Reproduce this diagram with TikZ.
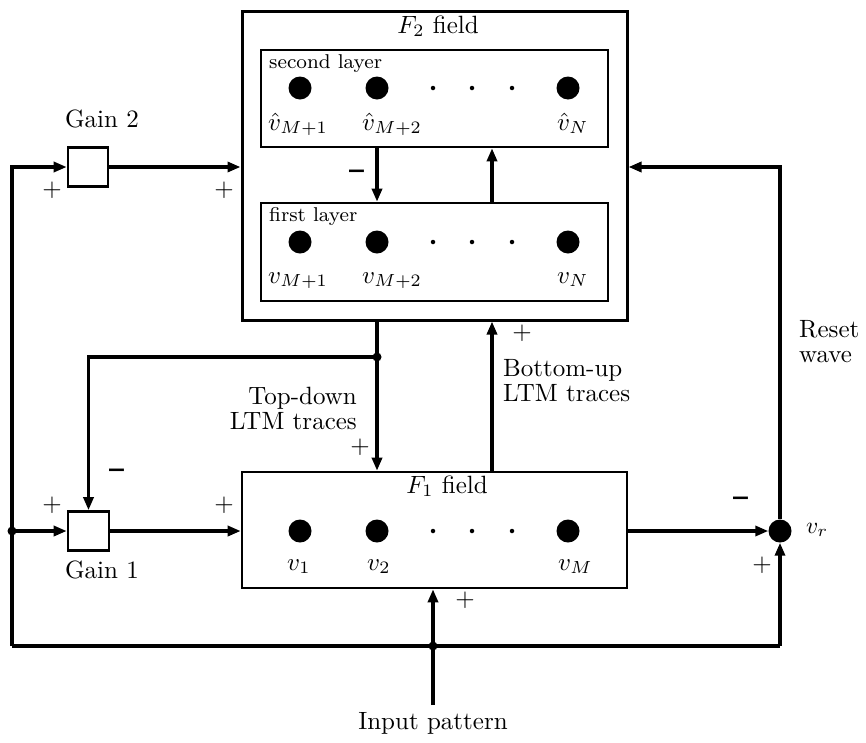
\documentclass[tikz,border=0pt]{standalone}
\usepackage{graphicx}
\usetikzlibrary{arrows.meta}
% text is set at its design size and magnified, as in a scaled-up drawing
\newcommand\magtext[1]{\scalebox{2.5}{#1}}
\newcommand\magstack[2]{\magtext{\renewcommand{\arraystretch}{0.83}\begin{tabular}{@{}#1@{}}#2\end{tabular}}}
\begin{document}
\begin{tikzpicture}[x=1pt,y=-1pt,
  font=\fontsize{10}{12}\selectfont,
  wire/.style={line width=3.2pt},
  conn/.style={line width=3.2pt,-{Triangle[length=13pt,width=10pt]}},
  frame/.style={draw,line width=2.6pt,inner sep=0pt},
  unit/.style={circle,fill,inner sep=0pt,minimum size=23pt},
  gap/.style={circle,fill,inner sep=0pt,minimum size=4.5pt},
  junc/.style={circle,fill,inner sep=0pt,minimum size=9pt},
  lbl/.style={inner sep=0pt}]
\useasboundingbox (0,0) rectangle (866,742);

% ---- boxes ----
\node[frame,line width=3pt,minimum width=385pt,minimum height=309pt] (F2) at (434.5,165.5) {};
\node[frame,minimum width=347pt,minimum height=97pt] (L2) at (434.5,98.5) {};
\node[frame,minimum width=347pt,minimum height=98pt] (L1) at (434.5,252) {};
\node[frame,minimum width=385pt,minimum height=116pt] (F1) at (434.5,530) {};
\node[frame,minimum width=40pt,minimum height=39pt] (G2) at (88,167) {};
\node[frame,minimum width=41pt,minimum height=39pt] (G1) at (88.5,531) {};
\node[unit] (vr) at (780,531) {};

% ---- units ----
\foreach \y/\n in {88/a,242/b,531/c}{
  \node[unit] (\n1) at (300,\y) {};
  \node[unit] (\n2) at (377,\y) {};
  \node[unit] (\n3) at (568,\y) {};
  \node[gap] (\n d1) at (433,\y) {};
  \node[gap] (\n d2) at (472,\y) {};
  \node[gap] (\n d3) at (512,\y) {};
}

% ---- box titles ----
\node[lbl,anchor=base] (F2t) at (438,33) {\magtext{$F_2$ field}};
\node[lbl,anchor=base] (F1t) at (447,493) {\magtext{$F_1$ field}};
\node[lbl,anchor=base west] (L2t) at (269,68) {\magtext{\fontsize{8}{9.6}\selectfont second layer}};
\node[lbl,anchor=base west] (L1t) at (269,221) {\magtext{\fontsize{8}{9.6}\selectfont first layer}};

% ---- unit labels ----
\node[lbl,anchor=base west] (la1) at (268,130) {\magtext{$\hat v_{M+1}$}};
\node[lbl,anchor=base west] (la2) at (362,130) {\magtext{$\hat v_{M+2}$}};
\node[lbl,anchor=base west] (la3) at (557,130) {\magtext{$\hat v_N$}};
\node[lbl,anchor=base west] (lb1) at (268,283) {\magtext{$v_{M+1}$}};
\node[lbl,anchor=base west] (lb2) at (362,283) {\magtext{$v_{M+2}$}};
\node[lbl,anchor=base west] (lb3) at (557,283) {\magtext{$v_N$}};
\node[lbl,anchor=base west] (lc1) at (287,570) {\magtext{$v_1$}};
\node[lbl,anchor=base west] (lc2) at (367,570) {\magtext{$v_2$}};
\node[lbl,anchor=base west] (lc3) at (558,570) {\magtext{$v_M$}};
\node[lbl,anchor=west] (lvr) at (806,530) {\scalebox{2.35}{$v_r$}};

% ---- wiring points ----
\coordinate (cTL) at (12,167);
\coordinate (jL) at (12,531);
\coordinate (cBL) at (12,646);
\coordinate (jIn) at (433,646);
\coordinate (cBR) at (780,646);
\coordinate (cTR) at (780,167);
\coordinate (td) at (377,357);
\coordinate (bu) at (492,357);
\coordinate (inp) at (433,705);

% ---- connectors ----
\draw[conn] (cBL) -- (cTL) -- (G2.west);
\draw[conn] (G2.east) -- (F2.west |- G2.east);
\draw[conn] (jL) -- (G1.west);
\draw[conn] (G1.east) -- (F1.west |- G1.east);
\draw[conn] (F2.south -| td) -- (F1.north -| td);
\draw[conn] (td) -| (G1.north);
\draw[conn] (F1.north -| bu) -- (F2.south -| bu);
\draw[conn] (L2.south -| td) -- (L1.north -| td);
\draw[conn] (L1.north -| bu) -- (L2.south -| bu);
\draw[conn] (F1.east |- vr) -- (vr.west);
\draw[conn] (vr.north) -- (cTR) -- (F2.east |- cTR);
\draw[wire] (cBL) -- (cBR);
\draw[conn] (cBR) -- (vr.south);
\draw[conn] (inp) -- (F1.south -| inp);

\node[junc] at (jL) {};
\node[junc] at (td) {};
\node[junc] at (jIn) {};

% ---- signs ----
\node[lbl] (p1) at (52,190) {\magtext{$+$}};
\node[lbl] (p2) at (224,190) {\magtext{$+$}};
\node[lbl] (p3) at (52,505) {\magtext{$+$}};
\node[lbl] (p4) at (224,505) {\magtext{$+$}};
\node[lbl] (p5) at (360,447) {\magtext{$+$}};
\node[lbl] (p6) at (522,333) {\magtext{$+$}};
\node[lbl] (p7) at (465,600) {\magtext{$+$}};
\node[lbl] (p8) at (762,565) {\magtext{$+$}};
\node[lbl] (m1) at (357,180) {\scalebox{2.6}[7]{\bfseries --}};
\node[lbl] (m2) at (117,479) {\scalebox{2.6}[7]{\bfseries --}};
\node[lbl] (m3) at (741,507) {\scalebox{2.6}[7]{\bfseries --}};

% ---- captions ----
\node[lbl,anchor=base] (g2t) at (102,127) {\magtext{Gain 2}};
\node[lbl,anchor=base] (g1t) at (102,578) {\magtext{Gain 1}};
\node[lbl,anchor=north east] (tdt) at (357,387) {\magstack{r}{Top-down\\LTM traces}};
\node[lbl,anchor=north west] (but) at (503,359) {\magstack{l}{Bottom-up\\LTM traces}};
\node[lbl,anchor=north west] (rst) at (799,320) {\magstack{l}{Reset\\wave}};
\node[lbl,anchor=base] (inpt) at (433,729) {\magtext{Input pattern}};
\end{tikzpicture}
\end{document}
